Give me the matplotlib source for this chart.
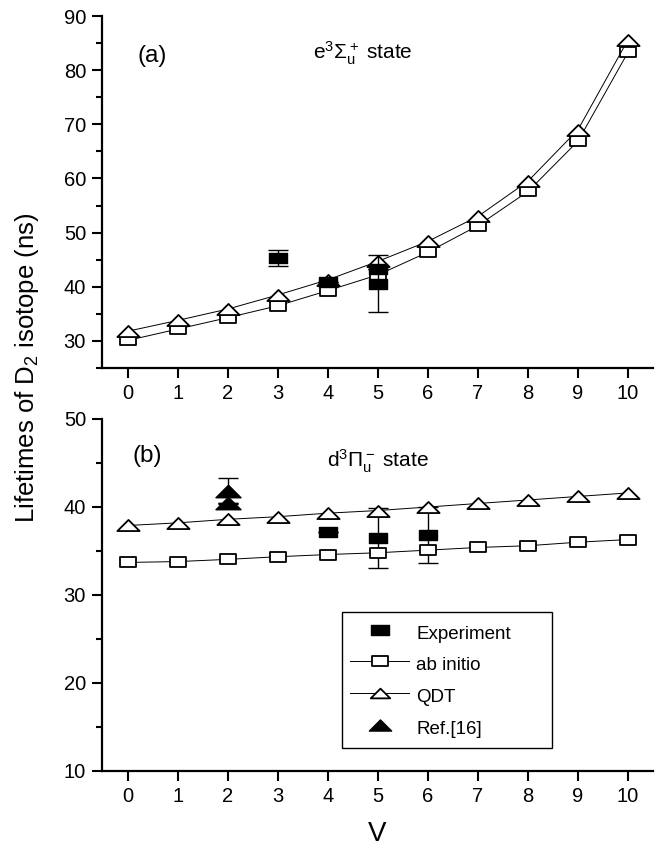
import matplotlib
matplotlib.use("Agg")
import matplotlib.pyplot as plt
import numpy as np
from matplotlib.path import Path
from matplotlib.lines import Line2D

plt.rcParams['font.family'] = ['Liberation Sans', 'DejaVu Sans']
plt.rcParams['mathtext.fontset'] = 'custom'
plt.rcParams['mathtext.rm'] = 'Liberation Sans'
plt.rcParams['mathtext.it'] = 'Liberation Sans:italic'
plt.rcParams['mathtext.bf'] = 'Liberation Sans:bold'

# ---------------- data ----------------
v = list(range(11))
xticks = list(range(11))

# panel (a): e3Sigma_u+ state
a_abinitio = [30.1, 32.2, 34.3, 36.5, 39.3, 42.2, 46.4, 51.3, 57.6, 66.9, 83.3]
a_qdt = [31.8, 33.8, 35.9, 38.5, 41.3, 44.7, 48.4, 53.0, 59.5, 69.0, 85.6]
a_exp_v = [3, 4, 5, 5]
a_exp_val = [45.3, 40.9, 43.2, 40.6]
a_exp_err = [1.4, 0.0, 0.0, 5.3]

# panel (b): d3Pi_u- state
b_abinitio = [33.7, 33.8, 34.05, 34.35, 34.6, 34.8, 35.1, 35.4, 35.6, 36.0, 36.3]
b_qdt = [37.9, 38.2, 38.6, 38.9, 39.3, 39.6, 40.0, 40.4, 40.8, 41.2, 41.6]
b_exp_v = [4, 5, 6]
b_exp_val = [37.2, 36.5, 36.8]
b_exp_err = [0.0, 3.4, 3.2]
b_ref_v = [2, 2]
b_ref_val = [41.8, 40.5]
b_ref_err = [1.5, 0.0]

# ---------------- markers ----------------
rect_open = Path([(-1, -0.62), (1, -0.62), (1, 0.62), (-1, 0.62), (-1, -0.62)],
                 [Path.MOVETO, Path.LINETO, Path.LINETO, Path.LINETO, Path.CLOSEPOLY])
rect_fill = Path([(-1, -0.58), (1, -0.58), (1, 0.58), (-1, 0.58), (-1, -0.58)],
                 [Path.MOVETO, Path.LINETO, Path.LINETO, Path.LINETO, Path.CLOSEPOLY])
tri = Path([(0, 0.5), (-1, -0.5), (1, -0.5), (0, 0.5)],
           [Path.MOVETO, Path.LINETO, Path.LINETO, Path.CLOSEPOLY])

W, H = 663, 848
fig = plt.figure(figsize=(W / 100, H / 100), dpi=100)

left_px, right_px = 102, 653
ax_a = fig.add_axes([left_px / W, 1 - 368 / H, (right_px - left_px) / W, (368 - 16) / H])
ax_b = fig.add_axes([left_px / W, 1 - 771 / H, (right_px - left_px) / W, (771 - 419) / H])

line_kw = dict(color='black', lw=0.7)
sq_kw = dict(marker=rect_open, ms=12.0, mfc='white', mec='black', mew=1.3)
tr_kw = dict(marker=tri, ms=16.0, mfc='white', mec='black', mew=1.3)
exp_kw = dict(fmt='none', ecolor='black', elinewidth=1.0, capsize=7.5, capthick=1.0)


def style(ax, ylim, yt, ymin):
    ax.set_xlim(-0.52, 10.5)
    ax.set_ylim(*ylim)
    ax.set_xticks(xticks)
    ax.set_yticks(yt)
    ax.set_yticks(ymin, minor=True)
    for s in ['top', 'right']:
        ax.spines[s].set_visible(False)
    for s in ['left', 'bottom']:
        ax.spines[s].set_linewidth(1.6)
    ax.tick_params(which='major', direction='out', length=7, width=1.5, labelsize=14.5, pad=4.5)
    ax.tick_params(which='minor', direction='out', length=4.5, width=1.5)
    ax.tick_params(axis='x', which='minor', bottom=False)


# panel (a)
ax_a.plot(v, a_abinitio, **line_kw, **sq_kw, zorder=2)
ax_a.plot(v, a_qdt, **line_kw, **tr_kw, zorder=2)
ax_a.errorbar(a_exp_v, a_exp_val, yerr=a_exp_err, **exp_kw, zorder=3)
ax_a.plot(a_exp_v, a_exp_val, ls='none', marker=rect_fill, ms=13.5, mfc='black', mec='black', zorder=4)
style(ax_a, (25, 90), [30, 40, 50, 60, 70, 80, 90], [25, 35, 45, 55, 65, 75, 85])
ax_a.text(0.091, 0.885, '(a)', transform=ax_a.transAxes, fontsize=17.5, ha='center', va='center')
ax_a.text(0.383, 0.878, r'e$\mathregular{^3\Sigma_u^+}$ state', transform=ax_a.transAxes,
          fontsize=15, ha='left', va='baseline')

# panel (b)
ax_b.plot(v, b_abinitio, **line_kw, **sq_kw, zorder=2)
ax_b.plot(v, b_qdt, **line_kw, **tr_kw, zorder=2)
ax_b.errorbar(b_exp_v, b_exp_val, yerr=b_exp_err, **exp_kw, zorder=1.5)
ax_b.plot(b_exp_v, b_exp_val, ls='none', marker=rect_fill, ms=13.5, mfc='black', mec='black', zorder=4)
ax_b.errorbar(b_ref_v, b_ref_val, yerr=b_ref_err, **exp_kw, zorder=3)
ax_b.plot(b_ref_v, b_ref_val, ls='none', marker=tri, ms=18, mfc='black', mec='black', zorder=4)
style(ax_b, (10, 50), [10, 20, 30, 40, 50], [15, 25, 35, 45])
ax_b.text(0.083, 0.895, '(b)', transform=ax_b.transAxes, fontsize=17.5, ha='center', va='center')
ax_b.text(0.408, 0.864, r'd$\mathregular{^3\Pi_u^-}$ state', transform=ax_b.transAxes,
          fontsize=15, ha='left', va='baseline')
ax_b.set_xlabel('V', fontsize=20, labelpad=11)

handles = [
    Line2D([], [], ls='none', marker=rect_fill, ms=13.0, mfc='black', mec='black'),
    Line2D([], [], **line_kw, marker=rect_open, ms=11, mfc='white', mec='black', mew=1.3),
    Line2D([], [], **line_kw, marker=tri, ms=14, mfc='white', mec='black', mew=1.3),
    Line2D([], [], ls='none', marker=tri, ms=16, mfc='black', mec='black'),
]
labels = ['Experiment', 'ab initio', 'QDT', 'Ref.[16]']
x0 = (342 - left_px) / (right_px - left_px)
y0 = (771 - 748) / (771 - 419)
wbox = (552 - 342) / (right_px - left_px)
hbox = (748 - 607) / (771 - 419)
leg = ax_b.legend(handles, labels, loc='lower left', bbox_to_anchor=(x0, y0, wbox, hbox),
                  mode='expand', borderaxespad=0, fontsize=13.5, frameon=True, fancybox=False,
                  edgecolor='black', framealpha=1, borderpad=0.45, labelspacing=0.4,
                  handlelength=3.1, handleheight=1.6, handletextpad=0.4)
leg.get_frame().set_linewidth(1.0)

fig.text(27 / W, 1 - 368 / H, r'Lifetimes of D$\mathregular{_2}$ isotope (ns)', rotation=90,
         fontsize=18.5, ha='center', va='center')

fig.savefig('out.png', dpi=100)
